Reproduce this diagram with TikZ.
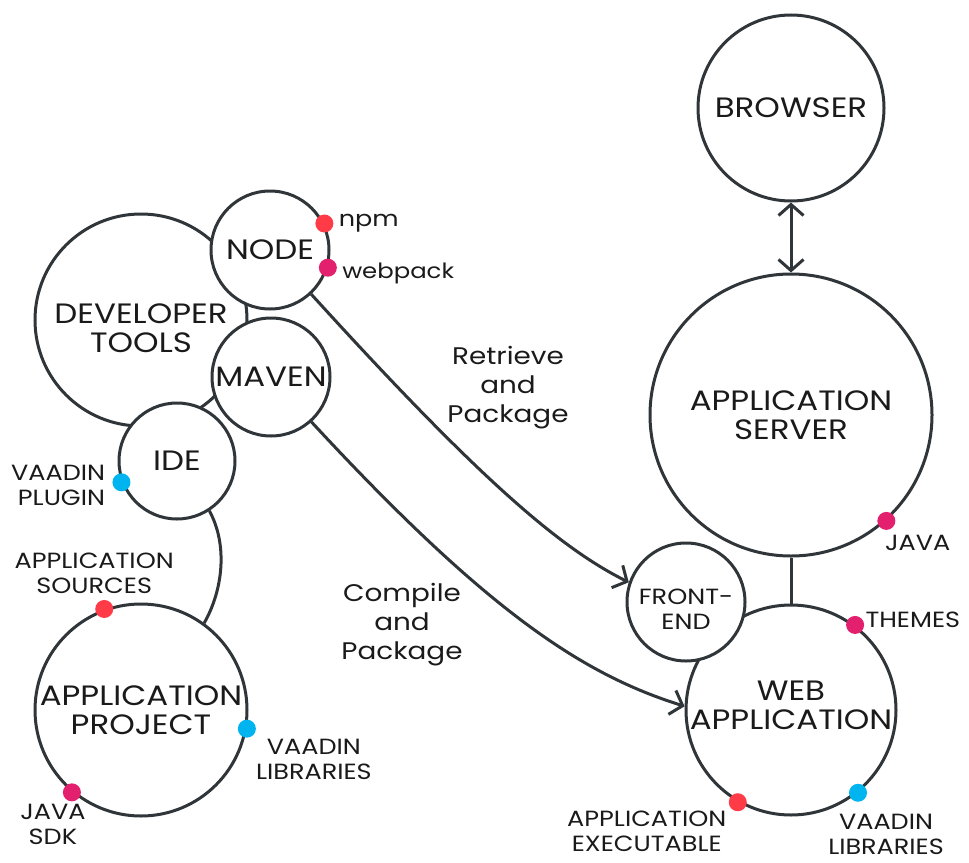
\documentclass[tikz,border=0pt]{standalone}
\usepackage{fontspec}
\setmainfont{Poppins}[FakeStretch=1.16]
\usetikzlibrary{positioning,arrows.meta,calc}

\definecolor{linegray}{HTML}{2F3538}
\definecolor{dotred}{HTML}{FF3B47}
\definecolor{dotpink}{HTML}{E3206E}
\definecolor{dotblue}{HTML}{00B5EF}
\definecolor{textblack}{HTML}{1A1A1A}

\tikzset{
  bubble/.style={circle, draw=linegray, line width=3pt, fill=white, align=center,
    text=textblack, inner sep=0pt, font=\fontsize{28}{29}\selectfont},
  bubbletext/.style={align=center, text=textblack, inner sep=0pt, font=\fontsize{28}{29}\selectfont},
  smallbubbletext/.style={bubbletext, font=\fontsize{22}{25}\selectfont},
  dot/.style={circle, fill=#1, minimum size=18pt, inner sep=0pt},
  tag/.style={text=textblack, align=center, inner sep=0pt, font=\fontsize{22}{25}\selectfont},
  flowlabel/.style={text=textblack, align=center, inner sep=0pt, font=\fontsize{24}{29}\selectfont},
  flow/.style={draw=linegray, line width=3pt},
  tip/.style={-{Straight Barb[length=11pt,width=25pt]}},
  tips/.style={{Straight Barb[length=11pt,width=25pt]}-{Straight Barb[length=11pt,width=25pt]}}
}

\begin{document}
\begin{tikzpicture}[x=1pt, y=-1pt]
    \useasboundingbox (0,0) rectangle (969,862);

    % server side
    \node[bubble, minimum size=186pt] (browser) at (791,108) {BROWSER};
    \node[bubble, minimum size=282pt] (server) at (791,415) {APPLICATION\\SERVER};
    \node[bubble, minimum size=210pt,
      label={[bubbletext, yshift=5pt]center:WEB\\APPLICATION}] (webapp) at (791,710) {};
    \node[bubble, minimum size=118pt,
      label={[smallbubbletext, yshift=-7pt]center:FRONT-\\END}] (frontend) at (686,602) {};

    \draw[flow, tips] (browser) -- (server);
    \draw[flow] (server) -- (webapp);

    % developer side
    \node[bubble, minimum size=212pt,
      label={[bubbletext, yshift=-8pt]center:DEVELOPER\\TOOLS}] (devtools) at (141,320) {};
    \node[bubble, minimum size=118pt] (nodejs) at (270,250) {NODE};
    \node[bubble, minimum size=118pt] (maven) at (271,377) {MAVEN};
    \node[bubble, minimum size=116pt] (ide) at (177,461) {IDE};
    \node[bubble, minimum size=212pt] (project) at (141,710) {APPLICATION\\PROJECT};

    \draw[flow] (ide.-57) .. controls (228,545) and (223,590) .. (project.54);

    % build flows
    \draw[flow, tip] (nodejs.-47) .. controls (480,480) and (560,548) .. (frontend.161);
    \draw[flow, tip] (maven.-48) .. controls (490,615) and (585,675) .. (webapp.178);
    \node[flowlabel] (retrieve) at (508,388) {Retrieve\\and\\Package};
    \node[flowlabel] (compile) at (402,625) {Compile\\and\\Package};

    % dots and their labels
    \node[dot=dotred] (npmdot) at (nodejs.26) {};
    \node[tag, right=5pt of npmdot] (npm) {npm};
    \node[dot=dotpink] (webpackdot) at (nodejs.-17) {};
    \node[tag, right=5pt of webpackdot, yshift=-6pt, font=\fontsize{21}{25}\selectfont] (webpack) {webpack};

    \node[dot=dotblue] (plugindot) at (ide.-159) {};
    \node[tag, left=7pt of plugindot, yshift=-3pt, align=right] (plugin) {VAADIN\\PLUGIN};

    \node[dot=dotred] (sourcesdot) at (project.110) {};
    \node[tag, anchor=south] (sources) at ($(sourcesdot.north)+(-10,-6)$) {APPLICATION\\SOURCES};
    \node[dot=dotblue] (projlibsdot) at (project.-10) {};
    \node[tag, anchor=north] (projlibs) at ($(projlibsdot.south)+(67,1)$) {VAADIN\\LIBRARIES};
    \node[dot=dotpink] (sdkdot) at (project.-130) {};
    \node[tag, anchor=north] (sdk) at ($(sdkdot.south)+(-19,2)$) {JAVA\\SDK};

    \node[dot=dotpink] (javadot) at (server.-48) {};
    \node[tag, anchor=north west] (java) at ($(javadot.south west)+(5,8)$) {JAVA};
    \node[dot=dotpink] (themesdot) at (webapp.53) {};
    \node[tag, right=1pt of themesdot, yshift=5pt] (themes) {THEMES};
    \node[dot=dotred] (execdot) at (webapp.-120) {};
    \node[tag, anchor=north] (exec) at ($(execdot.south)+(-91,-1)$) {APPLICATION\\EXECUTABLE};
    \node[dot=dotblue] (weblibsdot) at (webapp.-51) {};
    \node[tag, anchor=north] (weblibs) at ($(weblibsdot.south)+(28,12)$) {VAADIN\\LIBRARIES};
\end{tikzpicture}
\end{document}
